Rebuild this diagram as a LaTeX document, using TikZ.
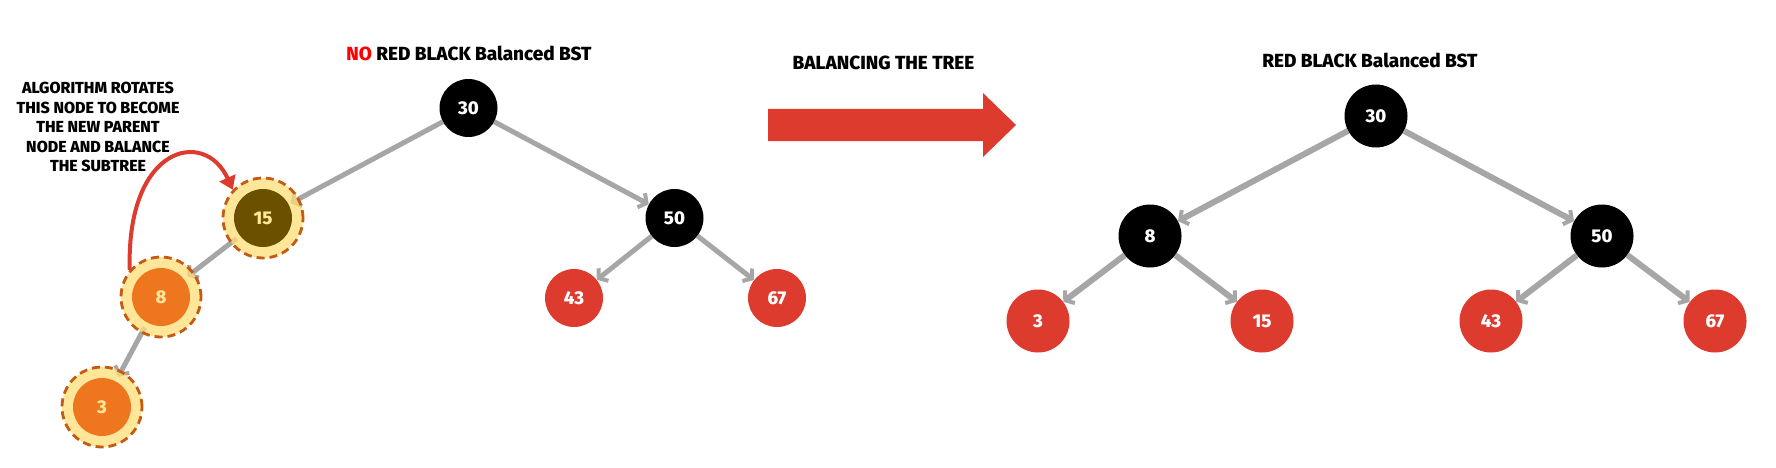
\documentclass[tikz,border=0pt]{standalone}
\usepackage{fontspec}
\setmainfont{Fira Sans}[BoldFont={Fira Sans ExtraBold}]
\usetikzlibrary{arrows.meta,backgrounds}
\definecolor{rbred}{HTML}{DC3B2E}
\definecolor{edgegray}{HTML}{A6A6A6}
\definecolor{ringfill}{RGB}{255,222,119}
\definecolor{ringtext}{HTML}{FFE699}
\definecolor{dashc}{HTML}{C55A11}
\definecolor{orangein}{HTML}{ED761F}
\definecolor{olivein}{HTML}{6B5000}
\definecolor{titlered}{HTML}{FF0000}
\begin{document}
\begin{tikzpicture}[x=1pt,y=-1pt,
  numfont/.style={font=\bfseries\fontsize{18.5}{18.5}\selectfont},
  blk/.style={circle, fill=black, text=white, minimum size=#1, inner sep=0pt, numfont},
  blk/.default=58pt,
  rednode/.style={circle, fill=rbred, text=white, minimum size=#1, inner sep=0pt, numfont},
  rednode/.default=58pt,
  hl/.style={circle, minimum size=80pt, inner sep=0pt, fill=ringfill, fill opacity=0.75,
    text opacity=1, draw=dashc, draw opacity=1, line width=2.8pt, dash pattern=on 8pt off 5pt,
    text=ringtext, numfont,
    path picture={\fill[#1, fill opacity=1] (path picture bounding box.center) circle (29pt);}},
  conn/.style={draw=edgegray, line width=#1, -{Straight Barb[length=6pt,width=16pt,line width=4pt]}},
  conn/.default=5pt,
  title/.style={font=\bfseries\fontsize{19}{19}\selectfont, inner sep=0pt},
  note/.style={font=\bfseries\fontsize{16}{19.5}\selectfont, align=center, inner sep=0pt},
  redarrow/.style={draw=rbred, line width=4pt, -{Triangle[length=13pt,width=17pt]}},
]
\useasboundingbox (0,0) rectangle (1776,468);

% ---------- left tree ----------
\node[title] (t1) at (469,53) {\textcolor{titlered}{NO} RED BLACK Balanced BST};
\node[blk] (a30) at (468.5,108) {30};
\node[blk] (a50) at (674.5,218) {50};
\node[rednode] (a43) at (574,298) {43};
\node[rednode] (a67) at (777,298) {67};
\node[hl=olivein] (a15) at (263,218) {15};
\node[hl=orangein] (a8) at (161,297) {8};
\node[hl=orangein] (a3) at (102,407) {3};

\node[note] (note) at (98,127) {ALGORITHM ROTATES\\THIS NODE TO BECOME\\THE NEW PARENT\\NODE AND BALANCE\\THE SUBTREE};

\begin{scope}[on background layer]
\draw[conn, shorten >=-10pt] (a30) -- (a15);
\draw[conn] (a30) -- (a50);
\draw[conn] (a50) -- (a43);
\draw[conn] (a50) -- (a67);
\draw[conn, shorten <=-8pt, shorten >=-8pt] (a15) -- (a8);
\draw[conn, shorten <=-7pt, shorten >=-7pt] (a8) -- (a3);
\end{scope}

\draw[redarrow] (a8.139) .. controls (126,145) and (205,128) .. (a15.137);

% ---------- middle ----------
\node[title] (t2) at (883.5,63) {BALANCING THE TREE};
\fill[rbred] (768,109) -- (983,109) -- (983,93) -- (1016,125) -- (983,157) -- (983,141) -- (768,141) -- cycle;

% ---------- right tree ----------
\node[title] (t3) at (1370,60) {RED BLACK Balanced BST};
\node[blk=63pt] (b30) at (1376,116) {30};
\node[blk=63pt] (b8) at (1150,236) {8};
\node[blk=63pt] (b50) at (1602,236) {50};
\node[rednode=63pt] (b3) at (1038,321) {3};
\node[rednode=63pt] (b15) at (1262,321) {15};
\node[rednode=63pt] (b43) at (1491,321) {43};
\node[rednode=63pt] (b67) at (1715,321) {67};
\draw[conn=6pt] (b30) -- (b8);
\draw[conn=6pt] (b30) -- (b50);
\draw[conn=6pt] (b8) -- (b3);
\draw[conn=6pt] (b8) -- (b15);
\draw[conn=6pt] (b50) -- (b43);
\draw[conn=6pt] (b50) -- (b67);
\end{tikzpicture}
\end{document}
